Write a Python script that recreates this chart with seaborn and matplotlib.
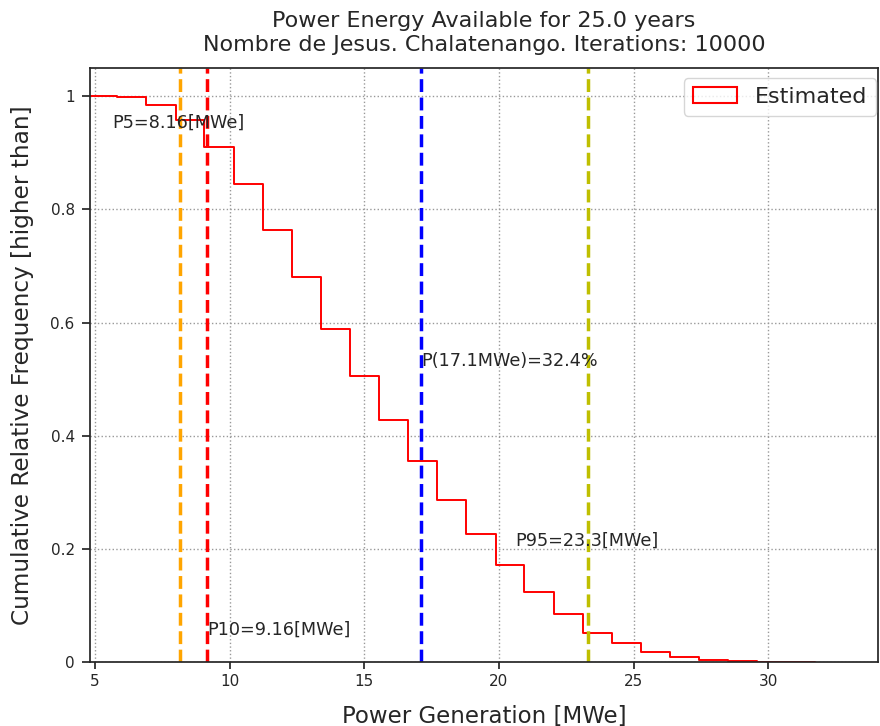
import numpy as np
import pandas as pd
import matplotlib
matplotlib.use("Agg")
import matplotlib.pyplot as plt
import matplotlib.patches as mpatches
from matplotlib.ticker import FuncFormatter
import seaborn as sns

# histogram bin edges [MWe] and cumulative relative frequency (higher than)
bin_edges = [4.73, 5.81, 6.89, 8.00, 9.06, 10.14, 11.23, 12.30, 13.38, 14.47,
             15.55, 16.63, 17.70, 18.78, 19.88, 20.94, 22.03, 23.11, 24.19,
             25.26, 26.35, 27.44, 28.52, 29.59, 30.66, 31.74]
cum_freq = [1.0, 0.998, 0.985, 0.958, 0.911, 0.845, 0.763, 0.680, 0.588,
            0.505, 0.428, 0.355, 0.287, 0.226, 0.172, 0.124, 0.084, 0.052,
            0.033, 0.018, 0.0094, 0.0035, 0.0012, 0.0005, 0.0002]

# percentiles and probability markers
p5 = 8.16
p10 = 9.16
p_mean = 17.1
p_mean_prob = 32.4
p95 = 23.3
years = 25.0
iterations = 10000
site = "Nombre de Jesus. Chalatenango"


def main():
    sns.set_theme(style="ticks", rc={"axes.edgecolor": "0.15",
                                     "xtick.major.size": 5,
                                     "ytick.major.size": 6,
                                     "xtick.major.pad": 4,
                                     "ytick.major.pad": 5})

    fig = plt.figure(figsize=(8.8, 7.26), dpi=100)
    ax = fig.add_axes([0.1023, 0.0882, 0.8954, 0.8181])

    # one row per bin: centre and its cumulative frequency as weight
    edges = np.array(bin_edges)
    df = pd.DataFrame({"center": (edges[:-1] + edges[1:]) / 2,
                       "freq": cum_freq})
    sns.histplot(data=df, x="center", weights="freq", bins=list(bin_edges),
                 element="step", fill=False, color="red", linewidth=1.4,
                 ax=ax)

    # percentile lines
    ax.axvline(p5, color="orange", ls="--", lw=2.5)
    ax.axvline(p10, color="red", ls="--", lw=2.5)
    ax.axvline(p_mean, color="blue", ls="--", lw=2.5)
    ax.axvline(p95, color=(0.75, 0.75, 0), ls="--", lw=2.5)

    txt = dict(fontsize=12.7, color="0.15")
    ax.text(p5 - 2.53, 0.945, "P5=%.2f[MWe]" % p5, **txt)
    ax.text(p10, 0.048, "P10=%.2f[MWe]" % p10, **txt)
    ax.text(p_mean, 0.523, "P(%.1fMWe)=%.1f%%" % (p_mean, p_mean_prob), **txt)
    ax.text(p95 - 2.7, 0.206, "P95=%.1f[MWe]" % p95, **txt)

    ax.set_xlim(4.81, 34.08)
    ax.set_ylim(0, 1.05)
    ax.set_xticks([5, 10, 15, 20, 25, 30])
    ax.set_yticks([0, 0.2, 0.4, 0.6, 0.8, 1.0])
    ax.yaxis.set_major_formatter(FuncFormatter(lambda v, p: "%g" % v))
    ax.tick_params(labelsize=11)
    ax.grid(True, ls=":", color="0.6", lw=1)

    ax.set_xlabel("Power Generation [MWe]", fontsize=16.5, labelpad=11)
    ax.set_ylabel("Cumulative Relative Frequency [higher than]",
                  fontsize=16.7, labelpad=12)
    ax.set_title("Power Energy Available for %.1f years\n%s. Iterations: %d"
                 % (years, site, iterations), fontsize=16, pad=12,
                 linespacing=1.25)

    handle = mpatches.Patch(facecolor="none", edgecolor="red", lw=1.5,
                            label="Estimated")
    ax.legend(handles=[handle], loc="upper right", fontsize=16,
              bbox_to_anchor=(0.9975, 0.983), borderaxespad=0)

    fig.savefig("out.png", dpi=100)


if __name__ == "__main__":
    main()
